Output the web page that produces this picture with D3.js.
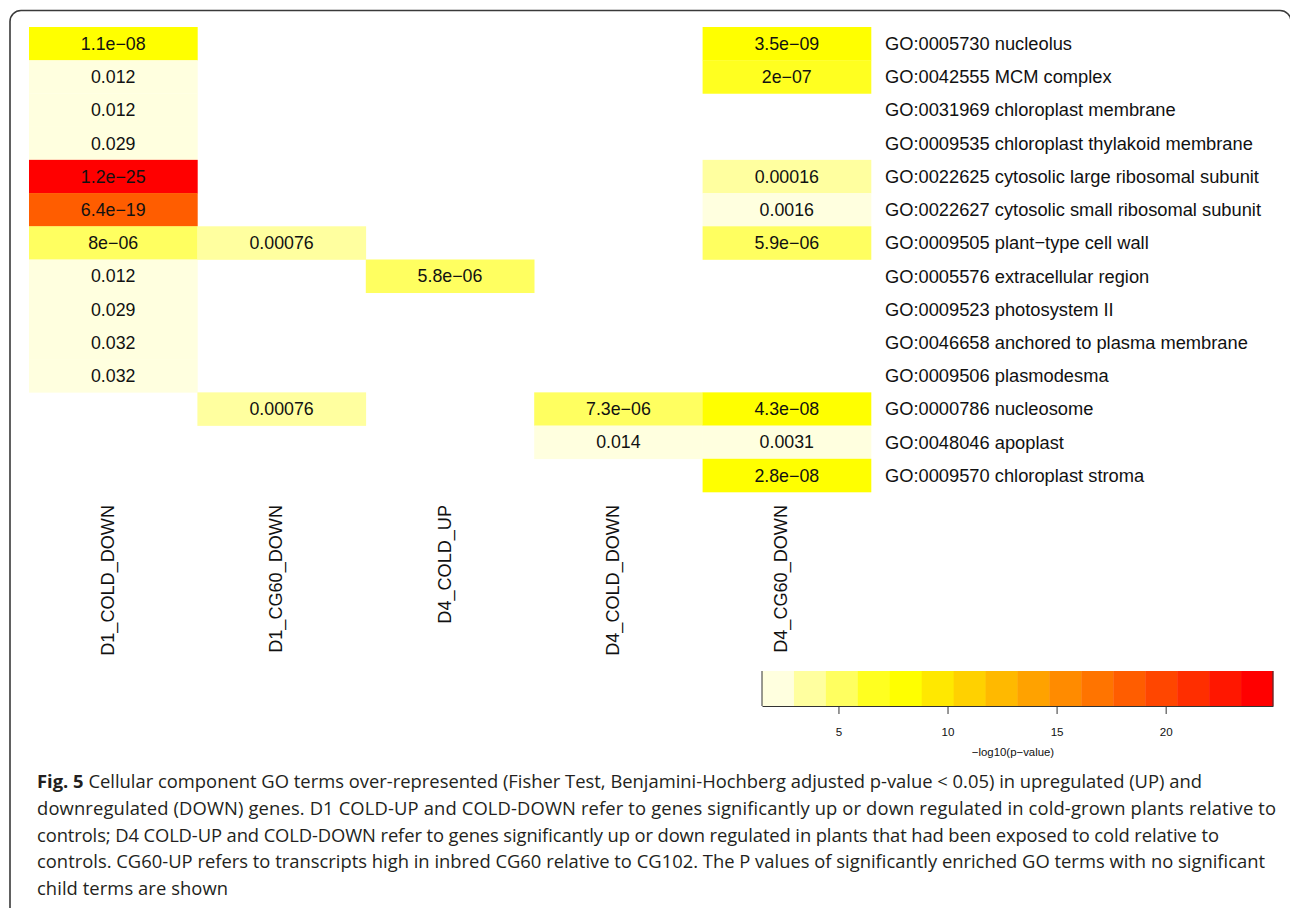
<!DOCTYPE html>
<html>
<head>
<meta charset="utf-8">
<script src="https://cdn.jsdelivr.net/npm/d3@7"></script>
<style>
  html, body { margin: 0; padding: 0; background: #fff; }
  svg { display: block; }
</style>
</head>
<body>
<svg id="fig" width="1290" height="908"></svg>
<script>
// GO terms (rows, top to bottom)
const terms = [
  "GO:0005730 nucleolus",
  "GO:0042555 MCM complex",
  "GO:0031969 chloroplast membrane",
  "GO:0009535 chloroplast thylakoid membrane",
  "GO:0022625 cytosolic large ribosomal subunit",
  "GO:0022627 cytosolic small ribosomal subunit",
  "GO:0009505 plant\u2212type cell wall",
  "GO:0005576 extracellular region",
  "GO:0009523 photosystem II",
  "GO:0046658 anchored to plasma membrane",
  "GO:0009506 plasmodesma",
  "GO:0000786 nucleosome",
  "GO:0048046 apoplast",
  "GO:0009570 chloroplast stroma"
];

// Gene sets (columns)
const geneSets = ["D1_COLD_DOWN", "D1_CG60_DOWN", "D4_COLD_UP", "D4_COLD_DOWN", "D4_CG60_DOWN"];

// Adjusted p-values per gene set, one entry per GO term (null = not enriched)
const pD1ColdDown = [1.1e-8, 0.012, 0.012, 0.029, 1.2e-25, 6.4e-19, 8e-6, 0.012, 0.029, 0.032, 0.032, null, null, null];
const pD1Cg60Down = [null, null, null, null, null, null, 0.00076, null, null, null, null, 0.00076, null, null];
const pD4ColdUp   = [null, null, null, null, null, null, null, 5.8e-6, null, null, null, null, null, null];
const pD4ColdDown = [null, null, null, null, null, null, null, null, null, null, null, 7.3e-6, 0.014, null];
const pD4Cg60Down = [3.5e-9, 2e-7, null, null, 0.00016, 0.0016, 5.9e-6, null, null, null, null, 4.3e-8, 0.0031, 2.8e-8];

// Colour key ticks and palette (reversed heat colours, 16 levels)
const legendTicks = [5, 10, 15, 20];
const palette = ["#FFFFDF", "#FFFF9F", "#FFFF60", "#FFFF20", "#FFFF00", "#FFE800", "#FFD100", "#FFB900",
                 "#FFA200", "#FF8B00", "#FF7400", "#FF5D00", "#FF4600", "#FF2E00", "#FF1700", "#FF0000"];
const legendTitle = "\u2212log10(p\u2212value)";

const captionLines = [
  ["Fig. 5", " Cellular component GO terms over-represented (Fisher Test, Benjamini-Hochberg adjusted p-value < 0.05) in upregulated (UP) and"],
  ["", "downregulated (DOWN) genes. D1 COLD-UP and COLD-DOWN refer to genes significantly up or down regulated in cold-grown plants relative to"],
  ["", "controls; D4 COLD-UP and COLD-DOWN refer to genes significantly up or down regulated in plants that had been exposed to cold relative to"],
  ["", "controls. CG60-UP refers to transcripts high in inbred CG60 relative to CG102. The P values of significantly enriched GO terms with no significant"],
  ["", "child terms are shown"]
];
// right edge of each caption line in the text block
const captionLineEnds = [1202, 1276, 1219, 1265, 228];

const columns = [pD1ColdDown, pD1Cg60Down, pD4ColdUp, pD4ColdDown, pD4Cg60Down];
const cells = [];
columns.forEach((vals, ci) => vals.forEach((p, ri) => {
  if (p != null) cells.push({ set: geneSets[ci], term: terms[ri], p: p, score: -Math.log10(p) });
}));

// R-style two-significant-digit formatting
function fmtP(p) {
  if (p >= 1e-4) return String(+p.toPrecision(2));
  let [m, e] = p.toExponential(1).split("e");
  m = m.replace(/\.0$/, "");
  const ei = parseInt(e, 10);
  const es = (ei < 0 ? "-" : "+") + String(Math.abs(ei)).padStart(2, "0");
  return (m + "e" + es).replace(/-/g, "\u2212");
}

const font = "'Liberation Sans', Arial, Helvetica, sans-serif";
const svg = d3.select("#fig");

// frame
svg.append("rect")
  .attr("x", 10).attr("y", 10.5).attr("width", 1281).attr("height", 940)
  .attr("rx", 11).attr("ry", 11)
  .attr("fill", "none").attr("stroke", "#3a3a3a").attr("stroke-width", 1.6);

const x = d3.scaleBand().domain(geneSets).range([29, 871]);
const y = d3.scaleBand().domain(terms).range([27, 492]);

const lo = d3.min(cells, d => d.score), hi = d3.max(cells, d => d.score);
const breaks = d3.range(palette.length + 1).map(i => lo + (hi - lo) * i / palette.length);
const color = d3.scaleThreshold().domain(breaks.slice(1, -1)).range(palette);

const g = svg.append("g");
g.selectAll("rect.cell").data(cells).join("rect")
  .attr("class", "cell")
  .attr("x", d => x(d.set)).attr("y", d => y(d.term))
  .attr("width", x.bandwidth() + 0.3).attr("height", y.bandwidth() + 0.3)
  .attr("fill", d => color(d.score));

g.selectAll("text.val").data(cells).join("text")
  .attr("class", "val")
  .attr("x", d => x(d.set) + x.bandwidth() / 2)
  .attr("y", d => y(d.term) + y.bandwidth() / 2 + 6.3)
  .attr("text-anchor", "middle")
  .attr("font-family", font).attr("font-size", 17.8).attr("fill", "#111")
  .text(d => fmtP(d.p));

// row labels
g.selectAll("text.row").data(terms).join("text")
  .attr("class", "row")
  .attr("x", 885)
  .attr("y", d => y(d) + y.bandwidth() / 2 + 6.4)
  .attr("font-family", font).attr("font-size", 18.3).attr("fill", "#111")
  .text(d => d);

// column labels
g.selectAll("text.col").data(geneSets).join("text")
  .attr("class", "col")
  .attr("transform", d => `translate(${x(d) + x.bandwidth() / 2 + 0.5},505) rotate(-90)`)
  .attr("text-anchor", "end")
  .attr("font-family", font).attr("font-size", 18.1).attr("fill", "#111")
  .text(d => d);

// colour key
const lx = d3.scaleLinear().domain([lo, hi]).range([762, 1273]);
const key = svg.append("g");
const barTop = 671, barBottom = 706;
key.selectAll("rect").data(palette).join("rect")
  .attr("x", (c, i) => lx(breaks[i]))
  .attr("y", barTop)
  .attr("width", (c, i) => lx(breaks[i + 1]) - lx(breaks[i]) + 0.4)
  .attr("height", barBottom - barTop)
  .attr("fill", c => c);
key.selectAll("line.edge").data([lo, hi]).join("line")
  .attr("class", "edge")
  .attr("x1", d => lx(d)).attr("x2", d => lx(d))
  .attr("y1", barTop).attr("y2", barBottom)
  .attr("stroke", "#333").attr("stroke-width", 1);

const axis = key.append("g").attr("transform", `translate(0,${barBottom})`)
  .call(d3.axisBottom(lx).tickValues(legendTicks).tickSizeInner(8).tickSizeOuter(0).tickPadding(14));
axis.select(".domain").attr("stroke", "#333");
axis.selectAll(".tick line").attr("stroke", "#333");
axis.selectAll(".tick text").attr("font-family", font).attr("font-size", 11.6).attr("fill", "#111");

key.append("text")
  .attr("x", 1013).attr("y", 756)
  .attr("text-anchor", "middle")
  .attr("font-family", font).attr("font-size", 11.4).attr("fill", "#111")
  .text(legendTitle);

// caption
const capFont = "'Open Sans', 'Noto Sans', sans-serif";
const capX = 37;
const cap = svg.append("g");
const capLines = cap.selectAll("text").data(captionLines).join("text")
  .attr("x", capX)
  .attr("y", (d, i) => 788 + i * 26.8)
  .attr("font-family", capFont).attr("font-size", 19).attr("fill", "#231f20");
capLines.append("tspan").attr("font-weight", "bold").text(d => d[0]);
capLines.append("tspan").text(d => d[1]);
// size the caption type to the text block, then settle each line on its right edge
const nodes = capLines.nodes();
let natural = 0, target = 0;
nodes.slice(0, 4).forEach((n, i) => { natural += n.getComputedTextLength(); target += captionLineEnds[i] - capX; });
const fs = 19 * target / natural;
capLines.attr("font-size", fs);
capLines.each(function (d, i) {
  d3.select(this).attr("textLength", captionLineEnds[i] - capX).attr("lengthAdjust", "spacing");
});
</script>
</body>
</html>
